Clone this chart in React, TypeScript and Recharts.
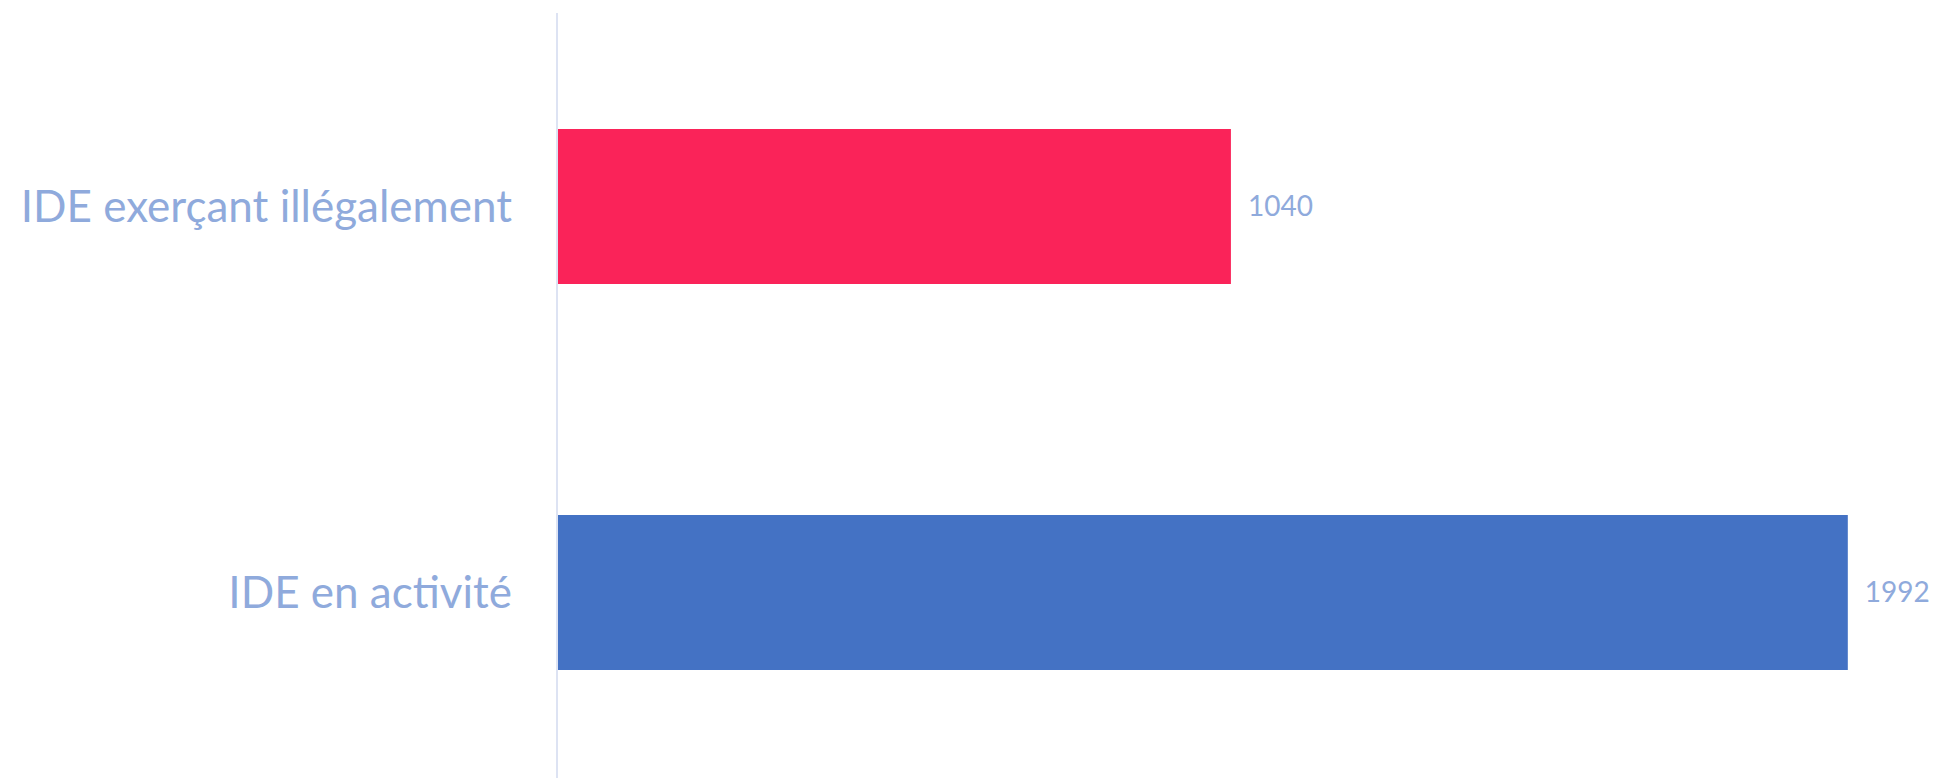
import { Bar, BarChart, Cell, LabelList, XAxis, YAxis } from "recharts"

const categories = ["IDE exerçant illégalement", "IDE en activité"]
const values = [1040, 1992]
const colors = ["#FA2359", "#4472C4"]

const data = categories.map((name, i) => ({ name, value: values[i] }))

export default function App() {
  return (
    <div style={{ position: "absolute", left: 0, top: 0, width: 1934, height: 778, overflow: "hidden", background: "#fff" }}>
      <BarChart
        width={1934}
        height={785}
        data={data}
        layout="vertical"
        margin={{ top: 13, right: 81, bottom: 0, left: 0 }}
      >
        <XAxis type="number" domain={[0, 2000]} hide />
        <YAxis
          type="category"
          dataKey="name"
          width={557}
          axisLine={{ stroke: "#DDE3F3", strokeWidth: 2 }}
          tickLine={false}
          tickSize={0}
          tickMargin={45}
          tick={{ fill: "#8FAADC", fontSize: 44, fontFamily: "Lato, 'Open Sans', sans-serif" }}
        />
        <Bar dataKey="value" barSize={155} isAnimationActive={false}>
          {data.map((d, i) => (
            <Cell key={d.name} fill={colors[i]} />
          ))}
          <LabelList
            dataKey="value"
            position="right"
            offset={17}
            fill="#8FAADC"
            fontSize={28}
            fontFamily="Lato, 'Open Sans', sans-serif"
          />
        </Bar>
      </BarChart>
    </div>
  )
}
